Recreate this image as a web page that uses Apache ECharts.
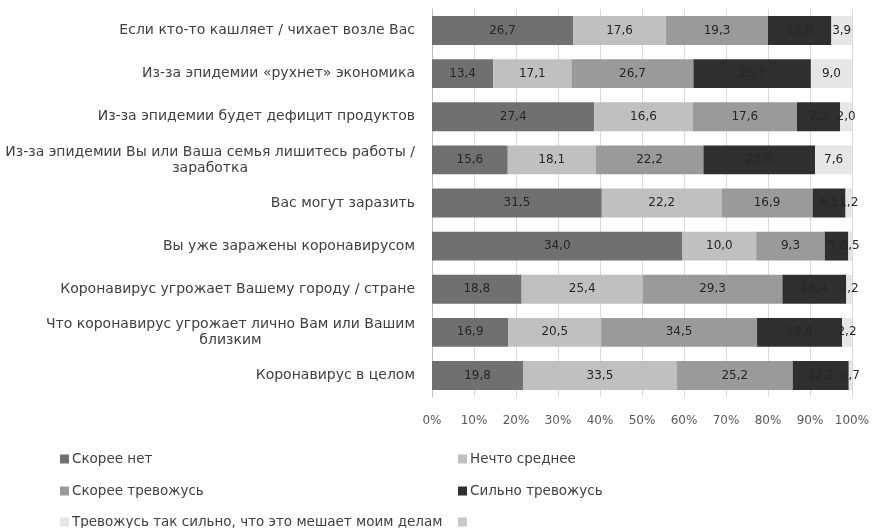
<!DOCTYPE html>
<html>
<head>
<meta charset="utf-8">
<script src="https://cdn.jsdelivr.net/npm/echarts@6/dist/echarts.min.js"></script>
<style>
  html, body { margin: 0; padding: 0; background: #fff; }
  #main { width: 875px; height: 528px; }
</style>
</head>
<body>
<div id="main"></div>
<script>
// категории (сверху вниз)
var categories = [
  'Если кто-то кашляет / чихает возле Вас',
  'Из-за эпидемии «рухнет» экономика',
  'Из-за эпидемии будет дефицит продуктов',
  'Из-за эпидемии Вы или Ваша семья лишитесь работы /\nзаработка',
  'Вас могут заразить',
  'Вы уже заражены коронавирусом',
  'Коронавирус угрожает Вашему городу / стране',
  'Что коронавирус угрожает лично Вам или Вашим\nблизким',
  'Коронавирус в целом'
]

var seriesNames = [
  'Скорее нет',
  'Нечто среднее',
  'Скорее тревожусь',
  'Сильно тревожусь',
  'Тревожусь так сильно, что это мешает моим делам',
  ' '
]

var skoreeNet = [26.7, 13.4, 27.4, 15.6, 31.5, 34.0, 18.8, 16.9, 19.8]
var nechtoSrednee = [17.6, 17.1, 16.6, 18.1, 22.2, 10.0, 25.4, 20.5, 33.5]
var skoreeTrevozhus = [19.3, 26.7, 17.6, 22.2, 16.9, 9.3, 29.3, 34.5, 25.2]
var silnoTrevozhus = [12.0, 25.7, 7.3, 23.0, 6.1, 3.2, 13.4, 18.8, 12.2]
var meshaetDelam = [3.9, 9.0, 2.0, 7.6, 1.2, 0.5, 1.2, 2.2, 0.7]
var pustaya = [0, 0, 0, 0, 0, 0, 0, 0, 0]

var xTicks = [0, 10, 20, 30, 40, 50, 60, 70, 80, 90, 100]

var raw = [skoreeNet, nechtoSrednee, skoreeTrevozhus, silnoTrevozhus, meshaetDelam, pustaya]
var colors = ['#707070', '#c0c0c0', '#9a9a9a', '#2f2f2f', '#e6e6e6', '#c8c8c8']

// нормированная шкала 100%
var totals = categories.map(function (c, i) {
  return raw.reduce(function (s, arr) { return s + arr[i] }, 0)
})

var series = raw.map(function (arr, k) {
  return {
    name: seriesNames[k],
    type: 'bar',
    stack: 'total',
    barCategoryGap: '33%',
    itemStyle: { color: colors[k] },
    label: {
      show: k < 5,
      position: 'inside',
      color: '#262626',
      fontFamily: 'DejaVu Sans',
      fontSize: 12,
      formatter: function (p) {
        return raw[k][p.dataIndex].toFixed(1).replace('.', ',')
      }
    },
    emphasis: { disabled: true },
    data: arr.map(function (v, i) { return v / totals[i] * 100 })
  }
})

// две колонки легенды
var legendPos = [
  [55, 447], [453, 447],
  [55, 479], [453, 479],
  [55, 510], [453, 510]
]
var legends = seriesNames.map(function (name, j) {
  return {
    left: legendPos[j][0],
    top: legendPos[j][1],
    data: [name],
    icon: 'rect',
    itemWidth: 9,
    itemHeight: 9,
    itemGap: 4,
    selectedMode: false,
    textStyle: {
      fontFamily: 'DejaVu Sans',
      fontSize: 13.5,
      color: '#404040',
      padding: [0, 0, 0, -2]
    }
  }
})

var myChart = echarts.init(document.getElementById('main'))
myChart.setOption({
  animation: false,
  backgroundColor: '#ffffff',
  legend: legends,
  grid: { left: 432, right: 23, top: 9, bottom: 131 },
  xAxis: {
    type: 'value',
    min: 0,
    max: 100,
    interval: 10,
    axisLine: { show: false },
    axisTick: { show: false },
    splitLine: { lineStyle: { color: '#d9d9d9' } },
    axisLabel: {
      margin: 18,
      color: '#595959',
      fontFamily: 'DejaVu Sans',
      fontSize: 12,
      formatter: function (v) { return xTicks.indexOf(v) >= 0 ? v + '%' : '' }
    }
  },
  yAxis: {
    type: 'category',
    inverse: true,
    data: categories,
    axisLine: { lineStyle: { color: '#bfbfbf' } },
    axisTick: { show: false },
    axisLabel: {
      margin: 17,
      color: '#404040',
      fontFamily: 'DejaVu Sans',
      fontSize: 14,
      lineHeight: 16,
      formatter: function (v) {
        var parts = v.split('\n')
        if (parts.length < 2) return v
        return parts[0] + '\n{c|' + parts[1] + '}'
      },
      rich: {
        c: {
          align: 'center',
          color: '#404040',
          fontFamily: 'DejaVu Sans',
          fontSize: 14,
          lineHeight: 16
        }
      }
    }
  },
  series: series
})
</script>
</body>
</html>
